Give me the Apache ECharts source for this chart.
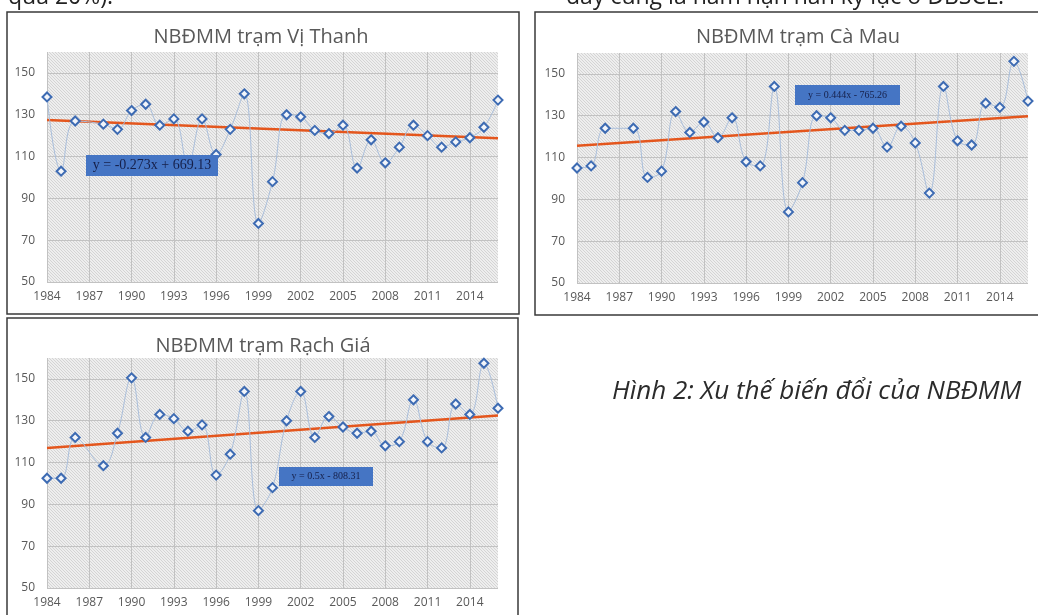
<!DOCTYPE html>
<html>
<head>
<meta charset="utf-8">
<title>NBĐMM</title>
<script src="https://cdn.jsdelivr.net/npm/echarts@6/dist/echarts.min.js"></script>
<style>
  html, body { margin: 0; padding: 0; background: #fff; }
  #chart { width: 1038px; height: 615px; }
</style>
</head>
<body>
<div id="chart"></div>
<script>
// years on the x axis, 1987 has no data at all three stations
const years = ['1984', '1985', '1986', '1987', '1988', '1989', '1990', '1991', '1992', '1993', '1994',
  '1995', '1996', '1997', '1998', '1999', '2000', '2001', '2002', '2003', '2004', '2005', '2006',
  '2007', '2008', '2009', '2010', '2011', '2012', '2013', '2014', '2015', '2016']

const viThanh = [138.5, 103, 127, null, 125.5, 123, 132, 135, 125, 128, 106, 128, 111, 123, 140,
  78, 98, 130, 129, 122.5, 121, 125, 104.5, 118, 107, 114.5, 125, 120, 114.5, 117, 119, 124, 137]
const caMau = [105, 106, 124, null, 124, 100.5, 103.5, 132, 122, 127, 119.5, 129, 108, 106, 144,
  84, 98, 130, 129, 123, 123, 124, 115, 125, 117, 93, 144, 118, 116, 136, 134, 156, 137]
const rachGia = [102.5, 102.5, 122, null, 108.5, 124, 150.5, 122, 133, 131, 125, 128, 104, 114, 144,
  87, 98, 130, 144, 122, 132, 127, 124, 125, 118, 120, 140, 120, 117, 138, 133, 157.5, 136]

// trend line ends (1984, 2016)
const trendViThanh = [127.5, 118.8]
const trendCaMau = [115.6, 129.8]
const trendRachGia = [117, 132.5]

const titles = ['NBĐMM trạm Vị Thanh', 'NBĐMM trạm Cà Mau', 'NBĐMM trạm Rạch Giá']
const equations = ['y = -0.273x + 669.13', 'y = 0.444x - 765.26', 'y = 0.5x - 808.31']
const caption = 'Hình 2: Xu thế biến đổi của NBĐMM'

const FONT = '"Open Sans", "Noto Sans", sans-serif'
const SERIF = '"Liberation Serif", "DejaVu Serif", serif'

function makeHatch() {
  const c = document.createElement('canvas')
  c.width = 3
  c.height = 3
  const ctx = c.getContext('2d')
  ctx.fillStyle = '#eeeeee'
  ctx.fillRect(0, 0, 3, 3)
  ctx.fillStyle = '#d4d4d4'
  ctx.fillRect(0, 0, 1, 1)
  ctx.fillRect(1, 1, 1, 1)
  ctx.fillRect(2, 2, 1, 1)
  return c
}
const hatch = { image: makeHatch(), repeat: 'repeat' }

const grids = [
  { left: 47, top: 52, width: 451, height: 230 },
  { left: 577, top: 53, width: 451, height: 230 },
  { left: 47, top: 358, width: 451, height: 230 }
]

function xAxisFor(i) {
  return {
    type: 'category',
    gridIndex: i,
    data: years,
    boundaryGap: false,
    axisLine: { show: false },
    axisTick: { show: false },
    axisLabel: { interval: 2, color: '#595959', fontSize: 12, fontFamily: FONT, margin: 9 },
    splitLine: { show: true, interval: 2, lineStyle: { color: '#c2c2c2', width: 1 } }
  }
}

function yAxisFor(i) {
  return {
    type: 'value',
    gridIndex: i,
    min: 50,
    max: 160,
    interval: 10,
    axisLine: { show: false },
    axisTick: { show: false },
    axisLabel: {
      color: '#595959',
      fontSize: 12,
      fontFamily: FONT,
      margin: 12,
      formatter: function(v) {
        return (v - 50) % 20 === 0 ? String(v) : ''
      }
    },
    splitLine: { show: true, lineStyle: { color: ['#c2c2c2', 'rgba(0,0,0,0)'], width: 1 } }
  }
}

function dataSeries(i, values) {
  return {
    type: 'line',
    xAxisIndex: i,
    yAxisIndex: i,
    data: values,
    smooth: 0.4,
    connectNulls: true,
    symbol: 'diamond',
    symbolSize: 9,
    showAllSymbol: true,
    z: 3,
    lineStyle: { color: '#a9bedb', width: 1 },
    itemStyle: { color: '#f2f5fa', borderColor: '#3d6bb3', borderWidth: 2 }
  }
}

function trendSeries(i, ends) {
  return {
    type: 'line',
    xAxisIndex: i,
    yAxisIndex: i,
    data: [[years[0], ends[0]], [years[years.length - 1], ends[1]]],
    symbol: 'none',
    z: 2,
    lineStyle: { color: '#e4561d', width: 2.5 }
  }
}

function eqBox(x, y, w, h, text, size) {
  return {
    type: 'group',
    z: 100,
    children: [
      { type: 'rect', shape: { x: x, y: y, width: w, height: h }, style: { fill: '#4575c4' }, z: 100 },
      {
        type: 'text',
        x: x + w / 2,
        y: y + h / 2,
        z: 101,
        style: { text: text, fill: '#16204a', font: size + 'px ' + SERIF, textAlign: 'center', textVerticalAlign: 'middle' }
      }
    ]
  }
}

function frame(x, y, w, h) {
  return { type: 'rect', shape: { x: x, y: y, width: w, height: h }, style: { fill: 'none', stroke: '#3a3a3a', lineWidth: 1.5 }, z: 50 }
}

function titleText(x, y, text) {
  return {
    type: 'text',
    x: x,
    y: y,
    z: 60,
    style: { text: text, fill: '#595959', font: '20px ' + FONT, textAlign: 'center', textVerticalAlign: 'middle' }
  }
}

const chart = echarts.init(document.getElementById('chart'))
const option = {
  backgroundColor: '#fff',
  animation: false,
  grid: grids.map(g => Object.assign({ show: true, backgroundColor: hatch, borderWidth: 0 }, g)),
  xAxis: [xAxisFor(0), xAxisFor(1), xAxisFor(2)],
  yAxis: [yAxisFor(0), yAxisFor(1), yAxisFor(2)],
  series: [
    dataSeries(0, viThanh), trendSeries(0, trendViThanh),
    dataSeries(1, caMau), trendSeries(1, trendCaMau),
    dataSeries(2, rachGia), trendSeries(2, trendRachGia)
  ],
  graphic: [
    frame(7, 12, 512, 302),
    frame(535, 12, 520, 303),
    frame(7, 318, 511, 310),
    titleText(261, 37, titles[0]),
    titleText(798, 37, titles[1]),
    titleText(263, 346, titles[2]),
    eqBox(86, 155, 132, 21, equations[0], 14),
    eqBox(795, 85, 105, 20, equations[1], 10),
    eqBox(279, 467, 94, 19, equations[2], 10),
    {
      type: 'text', x: 612, y: 392, z: 60,
      style: { text: caption, fill: '#2b2b2b', font: 'italic 26px ' + FONT, textVerticalAlign: 'middle' }
    },
    {
      type: 'text', x: 8, y: 9, z: 60,
      style: { text: 'quá 20%).', fill: '#222', font: '23px ' + FONT, textVerticalAlign: 'bottom' }
    },
    {
      type: 'text', x: 566, y: 9, z: 60,
      style: { text: 'đây cũng là năm hạn hán kỷ lục ở ĐBSCL.', fill: '#222', font: '23px ' + FONT, textVerticalAlign: 'bottom' }
    }
  ]
}
chart.setOption(option)
window.addEventListener('resize', function() {
  chart.resize()
})
</script>
</body>
</html>
